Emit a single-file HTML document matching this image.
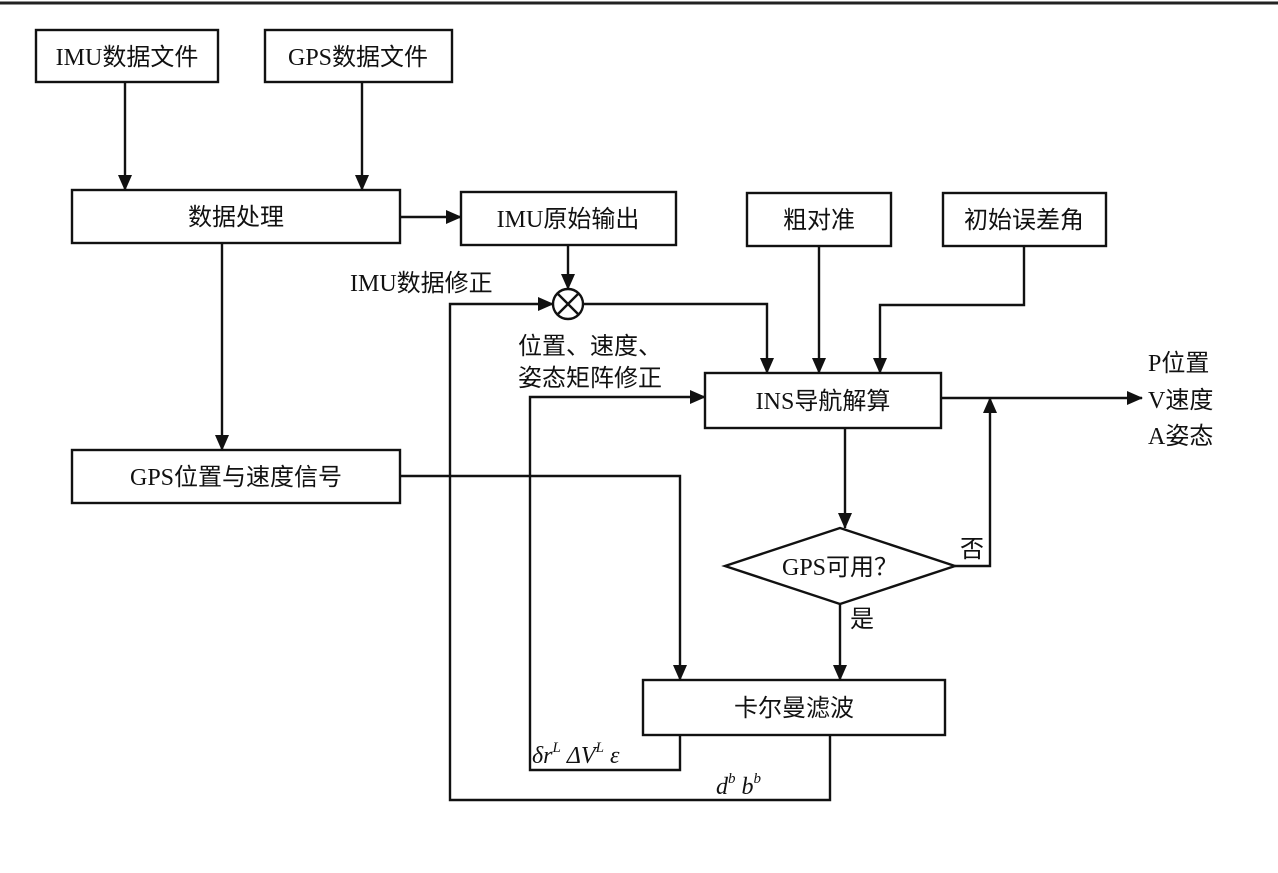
<!DOCTYPE html>
<html><head><meta charset="utf-8"><style>
html,body{margin:0;padding:0;background:#fff;}
svg{display:block;}
text{font-family:"Liberation Serif","Noto Sans CJK SC",serif;font-size:24px;fill:#111;}
.i{font-style:italic;}
</style></head><body>
<svg width="1278" height="873" viewBox="0 0 1278 873" xmlns="http://www.w3.org/2000/svg">
<defs><marker id="a" markerWidth="16" markerHeight="14" refX="15" refY="7" orient="auto" markerUnits="userSpaceOnUse"><path d="M0,0 L16,7 L0,14 z" fill="#111"/></marker></defs>
<line x1="0" y1="3" x2="1278" y2="3" stroke="#222" stroke-width="3"/>
<g fill="none" stroke="#111" stroke-width="2.4">
<rect x="36" y="30" width="182" height="52"/>
<rect x="265" y="30" width="187" height="52"/>
<rect x="72" y="190" width="328" height="53"/>
<rect x="461" y="192" width="215" height="53"/>
<rect x="747" y="193" width="144" height="53"/>
<rect x="943" y="193" width="163" height="53"/>
<rect x="705" y="373" width="236" height="55"/>
<rect x="72" y="450" width="328" height="53"/>
<rect x="643" y="680" width="302" height="55"/>
<circle cx="568" cy="304" r="15"/>
<line x1="557" y1="293" x2="579" y2="315"/><line x1="579" y1="293" x2="557" y2="315"/>
<polygon points="725,566 840,528 955,566 840,604"/>
<line x1="125" y1="82" x2="125" y2="190" marker-end="url(#a)"/>
<line x1="362" y1="82" x2="362" y2="190" marker-end="url(#a)"/>
<line x1="400" y1="217" x2="461" y2="217" marker-end="url(#a)"/>
<line x1="568" y1="245" x2="568" y2="289" marker-end="url(#a)"/>
<polyline points="583,304 767,304 767,373" marker-end="url(#a)"/>
<line x1="819" y1="246" x2="819" y2="373" marker-end="url(#a)"/>
<polyline points="1024,246 1024,305 880,305 880,373" marker-end="url(#a)"/>
<polyline points="830,735 830,800 450,800 450,304 553,304" marker-end="url(#a)"/>
<polyline points="530,735 530,770 680,770 680,735"/>
<polyline points="530,735 530,397 705,397" marker-end="url(#a)"/>
<line x1="222" y1="243" x2="222" y2="450" marker-end="url(#a)"/>
<polyline points="400,476 680,476 680,680" marker-end="url(#a)"/>
<line x1="845" y1="428" x2="845" y2="528" marker-end="url(#a)"/>
<line x1="941" y1="398" x2="1142" y2="398" marker-end="url(#a)"/>
<polyline points="955,566 990,566 990,398" marker-end="url(#a)"/>
<line x1="840" y1="604" x2="840" y2="680" marker-end="url(#a)"/>
</g>
<text x="127" y="65" text-anchor="middle">IMU数据文件</text>
<text x="358" y="65" text-anchor="middle">GPS数据文件</text>
<text x="236" y="225" text-anchor="middle">数据处理</text>
<text x="568" y="227" text-anchor="middle">IMU原始输出</text>
<text x="819" y="228" text-anchor="middle">粗对准</text>
<text x="1024" y="228" text-anchor="middle">初始误差角</text>
<text x="823" y="409" text-anchor="middle">INS导航解算</text>
<text x="236" y="485" text-anchor="middle">GPS位置与速度信号</text>
<text x="794" y="716" text-anchor="middle">卡尔曼滤波</text>
<text x="840" y="575" text-anchor="middle">GPS可用？</text>
<text x="350" y="291">IMU数据修正</text>
<text x="518" y="354">位置、速度、</text>
<text x="518" y="386">姿态矩阵修正</text>
<text x="960" y="557">否</text>
<text x="850" y="627">是</text>
<text x="1148" y="371">P位置</text>
<text x="1148" y="408">V速度</text>
<text x="1148" y="444">A姿态</text>
<text x="532" y="763" class="i" font-size="28">δr<tspan font-size="15" dy="-11">L</tspan><tspan dy="11"> ΔV</tspan><tspan font-size="15" dy="-11">L</tspan><tspan dy="11"> ε</tspan></text>
<text x="716" y="794" class="i" font-size="28">d<tspan font-size="15" dy="-11">b</tspan><tspan dy="11">   b</tspan><tspan font-size="15" dy="-11">b</tspan></text>
</svg>
</body></html>
